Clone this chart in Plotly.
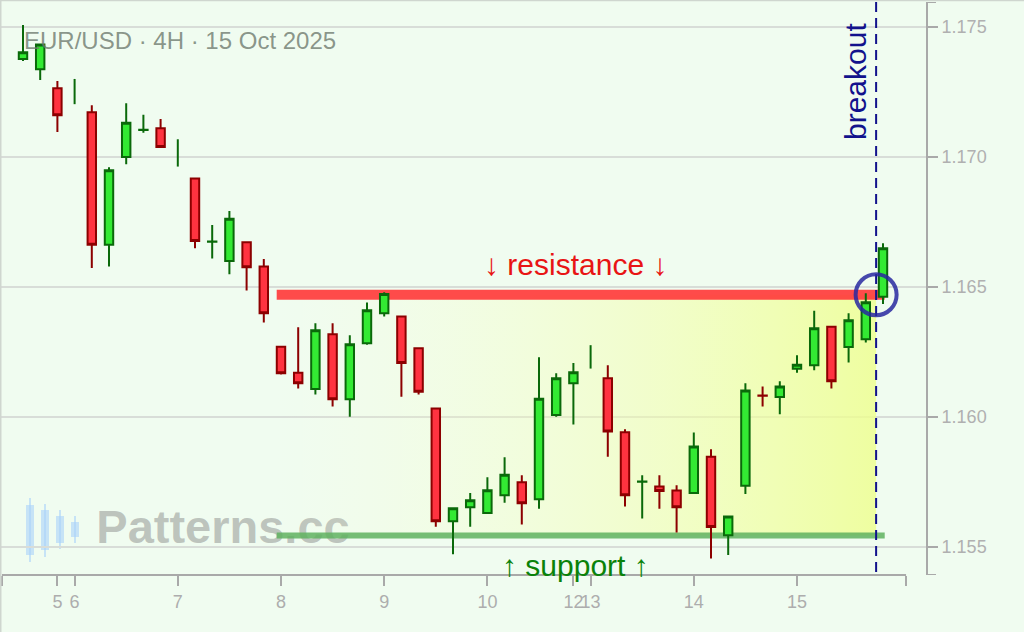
import plotly.graph_objects as go

# ---------------- data ----------------
candle_idx = [0, 1, 2, 4, 5, 6, 7, 8, 10, 11, 12, 13, 14, 15, 16, 17, 18, 19, 20,
              21, 22, 23, 24, 25, 26, 27, 28, 29, 30, 31, 32, 34, 35, 36, 37, 38,
              39, 40, 41, 42, 43, 44, 45, 46, 47, 48, 49, 50]
open_ = [1.17377, 1.17337, 1.17264, 1.17172, 1.16662, 1.17000, 1.17104, 1.17110,
         1.16917, 1.16674, 1.16600, 1.16672, 1.16579, 1.16270, 1.16170, 1.16107,
         1.16318, 1.16068, 1.16283, 1.16399, 1.16386, 1.16264, 1.16032, 1.15599,
         1.15653, 1.15630, 1.15699, 1.15749, 1.15683, 1.16007, 1.16130, 1.16149,
         1.15941, 1.15751, 1.15732, 1.15717, 1.15707, 1.15847, 1.15545, 1.15735,
         1.16082, 1.16077, 1.16185, 1.16199, 1.16347, 1.16269, 1.16299, 1.16462]
high = [1.17508, 1.17435, 1.17292, 1.17199, 1.16960, 1.17207, 1.17162, 1.17146,
        1.16918, 1.16738, 1.16792, 1.16676, 1.16607, 1.16272, 1.16345, 1.16360,
        1.16360, 1.16314, 1.16440, 1.16480, 1.16388, 1.16268, 1.16034, 1.15653,
        1.15707, 1.15768, 1.15845, 1.15776, 1.16230, 1.16168, 1.16207, 1.16199,
        1.15953, 1.15776, 1.15776, 1.15737, 1.15940, 1.15876, 1.15618, 1.16130,
        1.16117, 1.16137, 1.16237, 1.16408, 1.16349, 1.16399, 1.16476, 1.16668]
low = [1.17369, 1.17296, 1.17096, 1.16573, 1.16579, 1.16972, 1.17093, 1.17038,
       1.16649, 1.16609, 1.16549, 1.16486, 1.16363, 1.16163, 1.16109, 1.16086,
       1.16040, 1.16001, 1.16278, 1.16386, 1.16078, 1.16086, 1.15578, 1.15472,
       1.15578, 1.15628, 1.15670, 1.15586, 1.15647, 1.16001, 1.15971, 1.15847,
       1.15655, 1.15609, 1.15647, 1.15555, 1.15705, 1.15455, 1.15469, 1.15704,
       1.16040, 1.16010, 1.16170, 1.16180, 1.16109, 1.16209, 1.16286, 1.16434]
close = [1.17403, 1.17433, 1.17160, 1.16662, 1.16949, 1.17132, 1.17105, 1.17038,
         1.16677, 1.16675, 1.16762, 1.16576, 1.16399, 1.16168, 1.16130, 1.16333,
         1.16068, 1.16280, 1.16410, 1.16473, 1.16207, 1.16097, 1.15599, 1.15649,
         1.15680, 1.15718, 1.15778, 1.15668, 1.16070, 1.16149, 1.16172, 1.15944,
         1.15699, 1.15752, 1.15715, 1.15653, 1.15886, 1.15577, 1.15617, 1.16102,
         1.16081, 1.16117, 1.16201, 1.16341, 1.16137, 1.16372, 1.16441, 1.16649]

# bars that show only a high-low line (no visible body)
flat_idx = [3, 9, 33]
flat_open = [1.17250, 1.17015, 1.16230]
flat_high = [1.17300, 1.17068, 1.16276]
flat_low = [1.17203, 1.16963, 1.16186]
flat_close = [1.17251, 1.17016, 1.16231]

tick_idx = [2, 3, 9, 15, 21, 27, 32, 33, 39, 45]
tick_text = ["5", "6", "7", "8", "9", "10", "12", "13", "14", "15"]
y_ticks = [1.155, 1.160, 1.165, 1.170, 1.175]

resistance_level = 1.16470
support_level = 1.15544
zone_start = 14.75
line_end = 50.1
breakout_x = 49.6

title_text = "EUR/USD · 4H · 15 Oct 2025"

# ---------------- geometry ----------------
W, H = 1024, 632
ML, MR, MT, MB = 0, 98, 2, 57
PW, PH = W - ML - MR, H - MT - MB
X_RANGE = [-1.337, 52.5]
Y_RANGE = [1.15392, 1.17596]
AXIS_X0, AXIS_X1 = -1.22, 51.34


def px(x):
    return (x - ML) / PW


def py(y):
    return (H - MB - y) / PH


def xdat(p):
    return X_RANGE[0] + (p - ML) / PW * (X_RANGE[1] - X_RANGE[0])


def ydat(p):
    return Y_RANGE[1] - (p - MT) / PH * (Y_RANGE[1] - Y_RANGE[0])


GRAY = "#a9a9a9"
NAVY = "#12128c"
BG = "#f0fcf0"

fig = go.Figure()

# watermark (behind everything)
fig.add_trace(go.Scatter(
    x=[xdat(223)], y=[ydat(531)], mode="text", text=["Patterns.cc"],
    textfont=dict(size=47, color="rgba(155,158,155,0.6)",
                  family="Liberation Sans, Arial", weight="bold"),
    hoverinfo="skip", showlegend=False))

# zone between support and resistance
fig.add_trace(go.Scatter(
    x=[zone_start, breakout_x, breakout_x, zone_start, zone_start],
    y=[resistance_level, resistance_level, support_level, support_level, resistance_level],
    mode="lines", line=dict(width=0), fill="toself",
    fillgradient=dict(type="horizontal",
                      colorscale=[[0, "rgba(250,255,210,0.0)"],
                                  [1, "rgba(238,255,140,0.8)"]]),
    hoverinfo="skip", showlegend=False))

fig.add_trace(go.Scatter(
    x=[zone_start, line_end], y=[resistance_level, resistance_level],
    mode="lines", line=dict(color="rgba(255,60,60,0.92)", width=10),
    hoverinfo="skip", showlegend=False))
fig.add_trace(go.Scatter(
    x=[zone_start, line_end], y=[support_level, support_level],
    mode="lines", line=dict(color="rgba(95,178,95,0.85)", width=6),
    hoverinfo="skip", showlegend=False))

# candles on an overlaid (identical) axis pair so they sit above the zone
fig.add_trace(go.Candlestick(
    x=candle_idx, open=open_, high=high, low=low, close=close,
    xaxis="x2", yaxis="y2",
    increasing=dict(fillcolor="#33ea33", line=dict(color="#0a690a", width=2)),
    decreasing=dict(fillcolor="#ff3340", line=dict(color="#8c0000", width=2)),
    whiskerwidth=0, showlegend=False))

fig.add_trace(go.Ohlc(
    x=flat_idx, open=flat_open, high=flat_high, low=flat_low, close=flat_close,
    xaxis="x2", yaxis="y2", tickwidth=0,
    increasing=dict(line=dict(color="#0a690a", width=2)),
    decreasing=dict(line=dict(color="#0a690a", width=2)),
    showlegend=False))

shapes = []
# x axis line with end ticks
shapes.append(dict(type="line", xref="x", yref="paper", x0=AXIS_X0, x1=AXIS_X1,
                   y0=0, y1=0, line=dict(color=GRAY, width=2), layer="above"))
# y axis end ticks
for yv in Y_RANGE:
    shapes.append(dict(type="line", xref="paper", yref="y", xsizemode="pixel",
                       xanchor=1, x0=0, x1=10, y0=yv, y1=yv,
                       line=dict(color=GRAY, width=2), layer="above"))
# breakout dashed line
shapes.append(dict(type="line", xref="x", yref="paper", x0=breakout_x, x1=breakout_x,
                   y0=py(572), y1=py(0), line=dict(color=NAVY, width=2, dash="10px,6px"),
                   layer="above"))
# breakout circle
shapes.append(dict(type="circle", xref="x", yref="y", xsizemode="pixel", ysizemode="pixel",
                   xanchor=breakout_x, yanchor=resistance_level,
                   x0=-20.5, x1=20.5, y0=-20.5, y1=20.5,
                   line=dict(color="rgba(40,40,160,0.85)", width=4), layer="above"))
# page border (top / left)
shapes.append(dict(type="line", xref="paper", yref="paper", x0=px(0), x1=px(W),
                   y0=py(0.5), y1=py(0.5), line=dict(color="#cfd6cf", width=1.5)))
shapes.append(dict(type="line", xref="paper", yref="paper", x0=px(0.75), x1=px(0.75),
                   y0=py(H), y1=py(0), line=dict(color="#cfd6cf", width=1.5)))
# watermark logo (small candles)
logo = [(26, 34, 505, 555, 498, 562), (41, 49, 510, 550, 504, 557),
        (56, 64, 516, 543, 510, 549), (71, 79, 522, 537, 516, 543)]
for (a, b, t, btm, wt, wb) in logo:
    c = (a + b) / 2
    shapes.append(dict(type="line", xref="paper", yref="paper", x0=px(c), x1=px(c),
                       y0=py(wb), y1=py(wt), line=dict(color="rgba(170,210,250,0.6)", width=2),
                       layer="below"))
    shapes.append(dict(type="rect", xref="paper", yref="paper", x0=px(a), x1=px(b),
                       y0=py(btm), y1=py(t), line=dict(width=0),
                       fillcolor="rgba(170,210,250,0.6)", layer="below"))

annotations = [
    dict(text=title_text, xref="paper", yref="paper", x=px(22), y=py(40),
         xanchor="left", yanchor="middle", showarrow=False,
         font=dict(size=24, color="rgba(110,122,110,0.8)", family="Liberation Sans, Arial")),
    dict(text="↓ resistance ↓", xref="paper", yref="paper", x=px(575), y=py(265),
         xanchor="center", yanchor="middle", showarrow=False,
         font=dict(size=30, color="#e81414", family="Liberation Sans, Arial")),
    dict(text="↑ support ↑", xref="paper", yref="paper", x=px(575), y=py(565),
         xanchor="center", yanchor="middle", showarrow=False,
         font=dict(size=30, color="#0a820a", family="Liberation Sans, Arial")),
    dict(text="breakout", xref="paper", yref="paper", x=px(855), y=py(82),
         xanchor="center", yanchor="middle", showarrow=False, textangle=-90,
         font=dict(size=30, color=NAVY, family="Liberation Sans, Arial")),
]

fig.update_layout(
    width=W, height=H,
    margin=dict(l=ML, r=MR, t=MT, b=MB, pad=0),
    paper_bgcolor=BG, plot_bgcolor=BG,
    showlegend=False, boxgap=0.3,
    font=dict(family="Liberation Sans, Arial", color=GRAY),
    xaxis=dict(range=X_RANGE, rangeslider=dict(visible=False), showgrid=False,
               zeroline=False, showline=False,
               tickmode="array", tickvals=[AXIS_X0] + tick_idx + [AXIS_X1],
               ticktext=[""] + tick_text + [""], tickangle=0,
               ticks="outside", ticklen=10, tickwidth=2, tickcolor=GRAY,
               tickfont=dict(size=18, color="#adadad")),
    yaxis=dict(range=Y_RANGE, side="right", showline=True, linecolor=GRAY, linewidth=2,
               tickmode="array", tickvals=y_ticks, ticktext=[f"{v:.3f}" for v in y_ticks],
               ticks="outside", ticklen=10, tickwidth=2, tickcolor=GRAY,
               showgrid=True, gridcolor="#d8ddd8", gridwidth=2, zeroline=False,
               tickfont=dict(size=18, color="#b0b0b0")),
    xaxis2=dict(range=X_RANGE, overlaying="x", visible=False,
                rangeslider=dict(visible=False), showgrid=False, zeroline=False),
    yaxis2=dict(range=Y_RANGE, overlaying="y", visible=False, side="right",
                showgrid=False, zeroline=False),
    shapes=shapes, annotations=annotations,
)

fig.write_html("out.html", config={"displayModeBar": False},
               post_script="document.body.style.margin='0';")
